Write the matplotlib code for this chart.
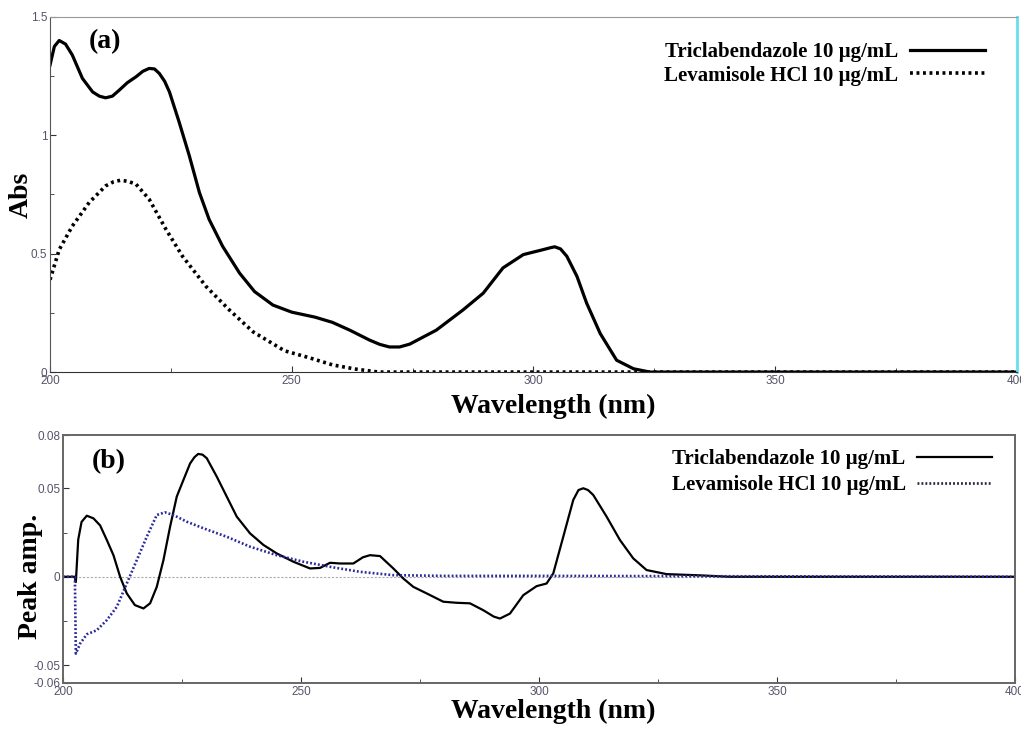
import matplotlib.pyplot as plt
import numpy as np

# (a) absorption spectra
wl_tcz_a = [200, 200.9, 201.9, 203.2, 204.6, 206.7, 208.8, 210.2, 211.5, 212.9, 214.3, 216.0,
            217.8, 219.2, 220.5, 221.6, 222.6, 223.7, 224.7, 226.7, 228.8, 230.9, 232.9, 235.7,
            239.2, 242.3, 246.1, 250.0, 254.8, 258.4, 262.0, 266.1, 268.2, 270.2, 272.3, 274.4,
            279.9, 285.4, 289.6, 293.7, 297.9, 302.0, 303.5, 304.4, 305.6, 306.9, 309.0, 311.0,
            313.8, 317.2, 320.7, 324.1, 400]
abs_tcz = [1.296, 1.375, 1.40, 1.385, 1.339, 1.24, 1.183, 1.165, 1.158, 1.165, 1.19, 1.222,
           1.247, 1.27, 1.282, 1.28, 1.261, 1.228, 1.183, 1.056, 0.914, 0.758, 0.645, 0.531,
           0.418, 0.34, 0.283, 0.253, 0.232, 0.21, 0.177, 0.135, 0.117, 0.106, 0.106, 0.118,
           0.177, 0.262, 0.333, 0.44, 0.496, 0.517, 0.525, 0.529, 0.52, 0.489, 0.404, 0.291,
           0.163, 0.05, 0.014, 0.0, 0.0]

wl_lev_a = [200, 201.9, 204.6, 208.1, 211.5, 213.1, 214.6, 216.2, 217.8, 220.5, 224.0, 227.4,
            232.3, 237.1, 242.0, 248.5, 253.7, 258.5, 263.4, 268.0, 400]
abs_lev = [0.39, 0.517, 0.616, 0.716, 0.786, 0.803, 0.81, 0.805, 0.793, 0.73, 0.602, 0.489,
           0.361, 0.262, 0.17, 0.09, 0.06, 0.03, 0.012, 0.0, 0.0]

# (b) derivative / peak amplitude
wl_tcz_b = [200, 202.5, 202.7, 203.2, 203.9, 205.0, 206.4, 207.8, 209.2, 210.6, 212.0, 213.4,
            215.1, 216.9, 218.3, 219.7, 221.1, 222.5, 223.9, 225.3, 226.7, 227.6, 228.4, 229.3,
            230.2, 232.3, 234.4, 236.5, 239.3, 242.1, 244.9, 248.4, 251.9, 254.0, 256.1, 258.2,
            261.0, 263.0, 264.5, 266.6, 269.4, 271.5, 273.6, 276.4, 279.9, 282.7, 285.5, 288.3,
            290.5, 291.8, 293.9, 296.7, 299.5, 301.6, 303.0, 305.1, 307.2, 308.3, 309.3, 310.3,
            311.4, 314.2, 317.0, 319.8, 322.6, 326.8, 333.8, 340, 400]
amp_tcz = [0, 0, -0.003, 0.021, 0.031, 0.0345, 0.033, 0.029, 0.0208, 0.0122, 0.0, -0.0094,
           -0.016, -0.0179, -0.015, -0.0057, 0.0094, 0.0283, 0.0453, 0.0547, 0.064, 0.0675,
           0.0694, 0.069, 0.067, 0.0566, 0.0453, 0.034, 0.0245, 0.018, 0.0132, 0.0085, 0.0047,
           0.005, 0.0079, 0.0075, 0.0075, 0.011, 0.0122, 0.0117, 0.0047, -0.001, -0.0057,
           -0.0094, -0.0141, -0.0147, -0.015, -0.0189, -0.0225, -0.0236, -0.0208, -0.0104,
           -0.0053, -0.0038, 0.0019, 0.0226, 0.0434, 0.049, 0.05, 0.049, 0.0462, 0.034, 0.0208,
           0.0104, 0.0038, 0.0015, 0.0008, 0.0, 0.0]

wl_lev_b = [200, 202.5, 202.7, 203.6, 205.0, 207.1, 209.2, 211.3, 213.4, 215.5, 217.6, 219.7,
            221.4, 223.2, 226.0, 229.5, 234.4, 239.3, 244.9, 250.5, 256.8, 262.4, 269.4, 280,
            300, 400]
amp_lev = [0, 0, -0.0434, -0.0377, -0.0325, -0.0302, -0.0245, -0.017, -0.0038, 0.0094, 0.0226,
           0.0349, 0.0364, 0.0349, 0.0311, 0.0274, 0.0226, 0.017, 0.0122, 0.0085, 0.0053, 0.0028,
           0.0009, 0.0005, 0.0005, 0.0]

lbl_tcz = "Triclabendazole 10 µg/mL"
lbl_lev = "Levamisole HCl 10 µg/mL"

serif = "Liberation Serif"
tick_col = "#55556a"
lab_size = 20
leg_prop = {"family": serif, "weight": "bold", "size": 15}

fig = plt.figure(figsize=(10.21, 7.31), dpi=100)
ax1 = fig.add_axes([0.049, 0.491, 0.947, 0.486])
ax2 = fig.add_axes([0.0617, 0.0657, 0.9324, 0.339])

# top panel
ax1.plot(wl_tcz_a, abs_tcz, color="black", lw=2.3, solid_joinstyle="round", label=lbl_tcz)
ax1.plot(wl_lev_a, abs_lev, color="black", lw=2.6, ls=(0, (0.8, 1.0)), label=lbl_lev)
ax1.set_xlim(200, 400)
ax1.set_ylim(0, 1.5)
ax1.set_xticks([200, 250, 300, 350, 400])
ax1.set_xticks([225, 275, 325, 375], minor=True)
ax1.set_yticks([0, 0.5, 1, 1.5])
ax1.set_yticklabels(["0", "0.5", "1", "1.5"])
ax1.set_yticks([0.25, 0.75, 1.25], minor=True)
ax1.spines["top"].set_color("#999999")
ax1.spines["left"].set_color("#555555")
ax1.spines["bottom"].set_color("#333333")
ax1.spines["right"].set_color("#66e0f0")
ax1.spines["right"].set_linewidth(2)
ax1.set_xlabel("Wavelength (nm)", fontfamily=serif, fontweight="bold", fontsize=lab_size)
ax1.xaxis.set_label_coords(0.52, -0.06)
ax1.set_ylabel("Abs", fontfamily=serif, fontweight="bold", fontsize=lab_size)
ax1.yaxis.set_label_coords(-0.017, 0.5)
ax1.text(0.040, 0.93, "(a)", transform=ax1.transAxes, fontfamily=serif,
         fontweight="bold", fontsize=20, va="center")
ax1.legend(loc="upper right", bbox_to_anchor=(0.967, 0.928), frameon=False,
           markerfirst=False, handlelength=3.6, handletextpad=0.55, labelspacing=0.15,
           borderpad=0, borderaxespad=0, prop=leg_prop)

# bottom panel
ax2.axhline(0, color="#aaaaaa", lw=0.8, ls=(0, (2, 1.5)))
ax2.plot(wl_tcz_b, amp_tcz, color="black", lw=1.6, solid_joinstyle="round", label=lbl_tcz)
ax2.plot(wl_lev_b, amp_lev, color="#2a2a9a", lw=1.9, ls=(0, (0.7, 0.8)), label=lbl_lev)
ax2.set_xlim(200, 400)
ax2.set_ylim(-0.06, 0.08)
ax2.set_xticks([200, 250, 300, 350, 400])
ax2.set_xticks([225, 275, 325, 375], minor=True)
ax2.set_yticks([-0.06, -0.05, 0, 0.05, 0.08])
ax2.set_yticklabels(["-0.06", "-0.05", "0", "0.05", "0.08"])
ax2.set_yticks([-0.025, 0.025], minor=True)
for s in ax2.spines.values():
    s.set_color("#666666")
    s.set_linewidth(1.4)
ax2.set_xlabel("Wavelength (nm)", fontfamily=serif, fontweight="bold", fontsize=lab_size)
ax2.xaxis.set_label_coords(0.515, -0.065)
ax2.set_ylabel("Peak amp.", fontfamily=serif, fontweight="bold", fontsize=lab_size)
ax2.yaxis.set_label_coords(-0.021, 0.43)
ax2.text(0.030, 0.895, "(b)", transform=ax2.transAxes, fontfamily=serif,
         fontweight="bold", fontsize=20, va="center")
leg2 = ax2.legend(loc="upper right", bbox_to_anchor=(0.976, 0.945), frameon=False,
                  markerfirst=False, handlelength=3.6, handletextpad=0.55, labelspacing=0.3,
                  borderpad=0, borderaxespad=0, prop=leg_prop)
leg2.get_lines()[1].set_color("#222244")

for ax in (ax1, ax2):
    ax.tick_params(which="both", direction="in", colors="#333333", labelcolor=tick_col,
                   labelsize=8.5, pad=2)
    ax.tick_params(which="major", length=4)
    ax.tick_params(which="minor", length=3)
    for t in ax.get_xticklabels() + ax.get_yticklabels():
        t.set_fontfamily("Liberation Sans")

fig.savefig("out.png", dpi=100)
